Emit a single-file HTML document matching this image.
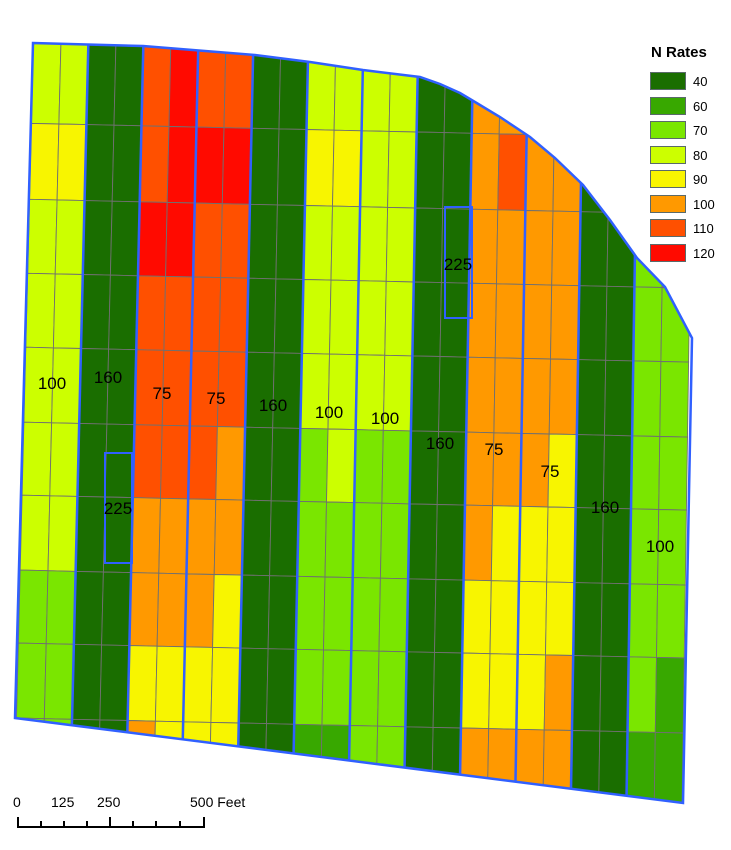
<!DOCTYPE html>
<html><head><meta charset="utf-8"><style>
html,body{margin:0;padding:0;background:#fff;}
svg{display:block;}
text{font-family:"Liberation Sans",Arial,sans-serif;}
</style></head><body>
<svg id="s" width="731" height="850" xmlns="http://www.w3.org/2000/svg">
<defs><clipPath id="fc"><polygon points="33,43 143,46 255,55 310,62 363,70 420,77 440,84 460,93 475,102 500,117 530,137 555,158 583,185 610,220 637,258 665,287 692,338 683,803 15,718"/></clipPath></defs>
<g id="cells" clip-path="url(#fc)"></g>
<g id="blue" clip-path="url(#fc)"></g>
<polygon points="33,43 143,46 255,55 310,62 363,70 420,77 440,84 460,93 475,102 500,117 530,137 555,158 583,185 610,220 637,258 665,287 692,338 683,803 15,718" fill="none" stroke="#3060ff" stroke-width="2.5"/>
<rect x="105" y="453" width="27" height="110" fill="none" stroke="#3060ff" stroke-width="2"/>
<rect x="445" y="207" width="27" height="111" fill="none" stroke="#3060ff" stroke-width="2"/>
<g font-size="17" fill="#000" text-anchor="middle">
<text x="52" y="389">100</text>
<text x="108" y="383">160</text>
<text x="162" y="399">75</text>
<text x="216" y="404">75</text>
<text x="273" y="411">160</text>
<text x="329" y="418">100</text>
<text x="385" y="424">100</text>
<text x="440" y="449">160</text>
<text x="494" y="455">75</text>
<text x="550" y="477">75</text>
<text x="605" y="513">160</text>
<text x="660" y="552">100</text>
<text x="118" y="514">225</text>
<text x="458" y="270">225</text>
</g>
<text x="651" y="57" font-size="15" font-weight="bold">N Rates</text>
<g stroke="#5a6a6a" stroke-width="1">
<rect x="650.5" y="72.5" width="35" height="17" fill="#1a6e00"/>
<rect x="650.5" y="97.5" width="35" height="17" fill="#38a800"/>
<rect x="650.5" y="121.5" width="35" height="17" fill="#7ae600"/>
<rect x="650.5" y="146.5" width="35" height="17" fill="#ccff00"/>
<rect x="650.5" y="170.5" width="35" height="17" fill="#f8f500"/>
<rect x="650.5" y="195.5" width="35" height="17" fill="#ff9900"/>
<rect x="650.5" y="219.5" width="35" height="17" fill="#ff5000"/>
<rect x="650.5" y="244.5" width="35" height="17" fill="#ff0a00"/>
</g>
<g font-size="13" fill="#000">
<text x="693" y="86">40</text>
<text x="693" y="111">60</text>
<text x="693" y="135">70</text>
<text x="693" y="160">80</text>
<text x="693" y="184">90</text>
<text x="693" y="209">100</text>
<text x="693" y="233">110</text>
<text x="693" y="258">120</text>
</g>
<g font-size="14" fill="#000">
<text x="13" y="807">0</text>
<text x="51" y="807">125</text>
<text x="97" y="807">250</text>
<text x="190" y="807">500 Feet</text>
</g>
<g stroke="#000" stroke-width="2" fill="none">
<path d="M18,817 V827 H204 V817"/>
<path d="M41,821V827M64,821V827M87,821V827M110,817V827M133,821V827M156,821V827M180,821V827"/>
</g>
</svg>
<script>
var C={40:"#1a6e00",60:"#38a800",70:"#7ae600",80:"#ccff00",90:"#f8f500",100:"#ff9900",110:"#ff5000",120:"#ff0a00"};
function st(a){var r=[];a.forEach(function(v){if(Array.isArray(v))r.push(v[0],v[1]);else r.push(v,v);});return r;}
var R=[
st([80,40,[110,120],110,40,80,80,40,100,100,40,70]),
st([90,40,[110,120],120,40,90,80,40,[100,110],100,40,70]),
st([80,40,120,110,40,80,80,40,100,100,40,70]),
st([80,40,110,110,40,80,80,40,100,100,40,70]),
st([80,40,110,110,40,80,80,40,100,100,40,70]),
st([80,40,110,[110,100],40,[70,80],70,40,100,[100,90],40,70]),
st([80,40,100,100,40,70,70,40,[100,90],90,40,70]),
st([70,40,100,[100,90],40,70,70,40,90,90,40,70]),
st([70,40,90,90,40,70,70,40,90,[90,100],40,[70,60]]),
st([70,40,[100,90],90,40,60,70,40,100,100,40,60])
];
var L=[20,123,199,273,347,422,495,570,643,718,793,900];
var s=15/668;
function bx(i,y){var xt=33+55*i,xb=15.5+55.6*i;return xt+(xb-xt)*(y-60)/700;}
function cx(j,y){if(j%2==0)return bx(j/2,y);var i=(j-1)/2;return (bx(i,y)+bx(i+1,y))/2;}
function pt(j,k){var x=cx(j,L[k]),y;for(var n=0;n<3;n++){y=L[k]+s*(x-15);x=cx(j,y);}return [x,y];}
var g=document.getElementById("cells"),h="";
for(var r=0;r<10;r++)for(var j=0;j<24;j++){
var a=pt(j,r),b=pt(j+1,r),c=pt(j+1,r+1),d=pt(j,r+1);
h+='<polygon points="'+[a,b,c,d].map(function(p){return p[0].toFixed(1)+","+p[1].toFixed(1)}).join(" ")+'" fill="'+C[R[r][j]]+'" stroke="#707070" stroke-width="0.9"/>';}
g.innerHTML=h;
var b="";for(var i=1;i<12;i++){b+='<line x1="'+bx(i,0).toFixed(1)+'" y1="0" x2="'+bx(i,850).toFixed(1)+'" y2="850" stroke="#3060ff" stroke-width="2.5"/>';}
document.getElementById("blue").innerHTML=b;
</script>
</body></html>
